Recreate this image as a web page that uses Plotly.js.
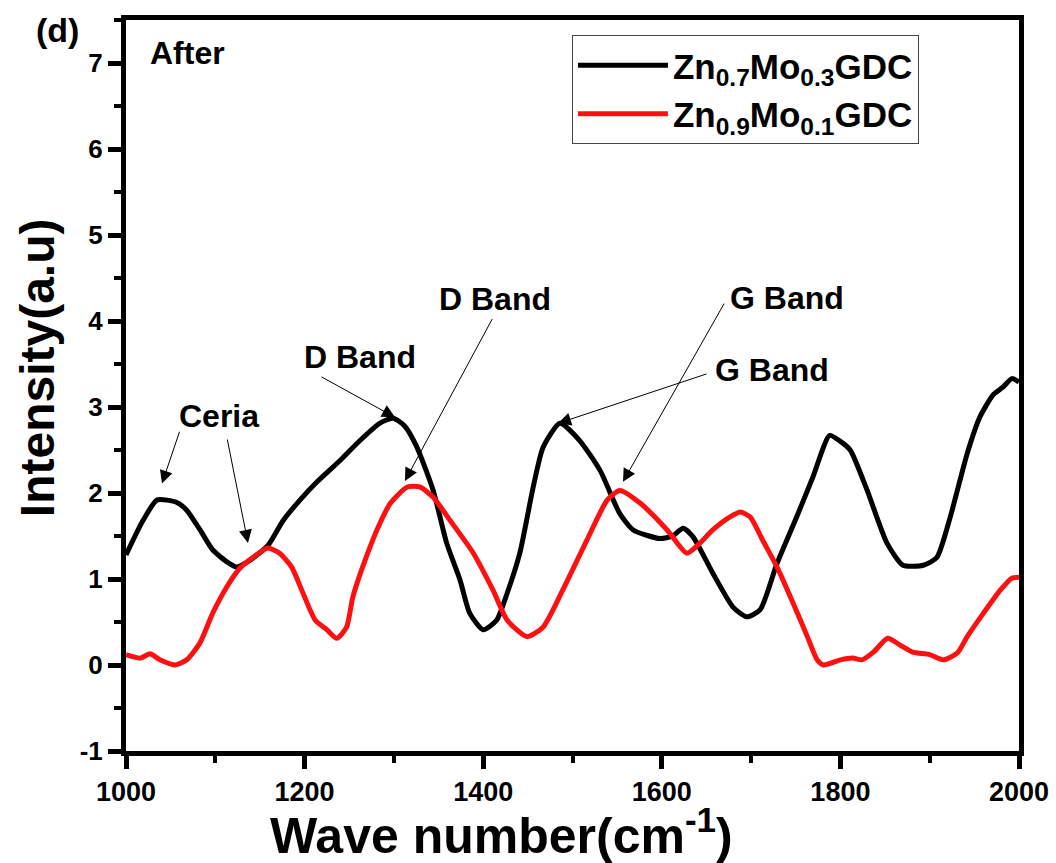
<!DOCTYPE html>
<html>
<head>
<meta charset="utf-8">
<script src="https://cdn.plot.ly/plotly-3.0.1.min.js"></script>
<style>html,body{margin:0;padding:0;background:#fff;}#chart{width:1056px;height:863px;}</style>
</head>
<body>
<div id="chart"></div>
<script>
// Zn0.7Mo0.3GDC (black)
const blackX = [1000,1019,1035,1057,1068,1083,1097,1113,1124,1139,1159,1176,1195,1214,1240,1262,1284,1299,1312,1325,1344,1359,1374,1385,1400,1415,1427,1441,1456,1467,1486,1508,1531,1553,1568,1598,1612,1624,1635,1657,1680,1695,1710,1729,1751,1769,1788,1800,1811,1830,1852,1870,1893,1908,1923,1942,1956,1971,1982,1992,2000];
const blackY = [1.28,1.68,1.92,1.89,1.80,1.57,1.34,1.20,1.14,1.22,1.39,1.68,1.92,2.13,2.38,2.61,2.81,2.87,2.78,2.55,2.03,1.42,0.99,0.60,0.41,0.52,0.84,1.30,2.07,2.53,2.81,2.61,2.26,1.76,1.57,1.47,1.50,1.59,1.49,1.07,0.67,0.56,0.64,1.18,1.72,2.18,2.67,2.60,2.50,2.03,1.42,1.16,1.16,1.25,1.72,2.46,2.88,3.14,3.23,3.33,3.29];
// Zn0.9Mo0.1GDC (red)
const redX = [1000,1016,1027,1038,1055,1068,1083,1097,1113,1128,1142,1159,1172,1186,1198,1212,1225,1236,1247,1254,1265,1281,1296,1315,1329,1344,1363,1389,1411,1427,1449,1467,1489,1516,1539,1553,1576,1606,1628,1643,1657,1676,1688,1699,1713,1729,1747,1763,1774,1781,1800,1814,1824,1837,1853,1867,1881,1900,1915,1931,1942,1960,1979,1992,2000];
const redY = [0.12,0.08,0.13,0.06,0.00,0.06,0.26,0.60,0.91,1.13,1.25,1.36,1.30,1.13,0.84,0.52,0.41,0.31,0.44,0.79,1.14,1.57,1.88,2.07,2.07,1.95,1.68,1.30,0.87,0.52,0.33,0.44,0.87,1.45,1.92,2.03,1.88,1.57,1.30,1.42,1.57,1.72,1.78,1.72,1.45,1.14,0.72,0.33,0.06,0.00,0.06,0.08,0.06,0.15,0.31,0.23,0.15,0.12,0.06,0.14,0.33,0.60,0.87,1.01,1.02];

const seriesNames = ["Zn<sub>0.7</sub>Mo<sub>0.3</sub>GDC", "Zn<sub>0.9</sub>Mo<sub>0.1</sub>GDC"];
const xTickVals = [1000,1200,1400,1600,1800,2000];
const yTickVals = [-1,0,1,2,3,4,5,6,7];
const xTitle = "Wave number(cm<sup>-1</sup>)";
const yTitle = "Intensity(a.u)";

// labels with their positions and arrow heads (data units)
const labelTexts = ["Ceria","D Band","D Band","G Band","G Band"];
const labelX = [1104,1262,1413,1740,1723];
const labelY = [2.90,3.58,4.26,4.27,3.43];
// arrows: tail (ax, ay) -> head (hx, hy)
const arrowTailX = [1060.5,1113.1,1217.2,1411.0,1670.8,1651.7];
const arrowTailY = [2.73,2.64,3.36,4.04,4.22,3.39];
const arrowHeadX = [1040.3,1136.6,1301.2,1312.4,1556.5,1483.8];
const arrowHeadY = [2.11,1.42,2.88,2.14,2.13,2.81];

const FONT = "Liberation Sans, Arial, sans-serif";

const traces = [
  {x: blackX, y: blackY, name: seriesNames[0], mode: "lines", type: "scatter",
   line: {color: "#000000", width: 5, shape: "spline", smoothing: 0.6}},
  {x: redX, y: redY, name: seriesNames[1], mode: "lines", type: "scatter",
   line: {color: "#ff1010", width: 5, shape: "spline", smoothing: 0.6}}
];

const annotations = [];
for (let i = 0; i < labelTexts.length; i++) {
  annotations.push({x: labelX[i], y: labelY[i], xref: "x", yref: "y", text: labelTexts[i],
    showarrow: false, font: {family: FONT, size: 32, color: "#000", weight: "bold"}});
}
for (let i = 0; i < arrowTailX.length; i++) {
  annotations.push({x: arrowHeadX[i], y: arrowHeadY[i], xref: "x", yref: "y",
    ax: arrowTailX[i], ay: arrowTailY[i], axref: "x", ayref: "y", text: "",
    showarrow: true, arrowhead: 2, arrowsize: 2.6, arrowwidth: 1, arrowcolor: "#000", standoff: 0, startstandoff: 0});
}
annotations.push({x: 1069, y: 7.12, xref: "x", yref: "y", text: "After", showarrow: false,
  font: {family: FONT, size: 32, color: "#000", weight: "bold"}});
annotations.push({x: -0.077, y: 0.986, xref: "paper", yref: "paper", xanchor: "center", yanchor: "middle",
  text: "(d)", showarrow: false,
  font: {family: FONT, size: 34, color: "#000", weight: "bold"}});
// axis titles placed as in the reference
annotations.push({x: 0.42, y: -0.111, xref: "paper", yref: "paper", xanchor: "center", yanchor: "middle",
  text: xTitle, showarrow: false,
  font: {family: FONT, size: 50, color: "#000", weight: "bold"}});
annotations.push({x: -0.0997, y: 0.525, xref: "paper", yref: "paper", xanchor: "center", yanchor: "middle",
  text: yTitle, textangle: -90, showarrow: false,
  font: {family: FONT, size: 48, color: "#000", weight: "bold"}});

const layout = {
  width: 1056, height: 863,
  margin: {l: 126, r: 37, t: 20, b: 112},
  paper_bgcolor: "#ffffff", plot_bgcolor: "#ffffff",
  showlegend: true,
  legend: {x: 0.4994, y: 0.9795, xanchor: "left", yanchor: "top",
    bordercolor: "#444", borderwidth: 1, bgcolor: "#ffffff",
    font: {family: FONT, size: 35, color: "#000", weight: "bold"},
    itemwidth: 90, tracegroupgap: 0},
  xaxis: {
    range: [1000, 2000], tickvals: xTickVals, ticktext: xTickVals.map(String),
    showgrid: false, zeroline: false, showline: true, linecolor: "#000", linewidth: 5, mirror: true,
    ticks: "outside", ticklen: 13, tickwidth: 5, tickcolor: "#000",
    tickfont: {family: FONT, size: 27, color: "#000", weight: "bold"},
    minor: {dtick: 100, tick0: 1000, ticks: "outside", ticklen: 7, tickwidth: 4, tickcolor: "#000"}
  },
  yaxis: {
    range: [-1, 7.5], tickvals: yTickVals, ticktext: yTickVals.map(String),
    showgrid: false, zeroline: false, showline: true, linecolor: "#000", linewidth: 5, mirror: true,
    ticks: "outside", ticklen: 13, tickwidth: 5, tickcolor: "#000",
    tickfont: {family: FONT, size: 26, color: "#000", weight: "bold"},
    minor: {dtick: 0.5, tick0: -1, ticks: "outside", ticklen: 7, tickwidth: 4, tickcolor: "#000"}
  },
  annotations: annotations
};

Plotly.newPlot("chart", traces, layout, {displayModeBar: false, staticPlot: true});
</script>
</body>
</html>
